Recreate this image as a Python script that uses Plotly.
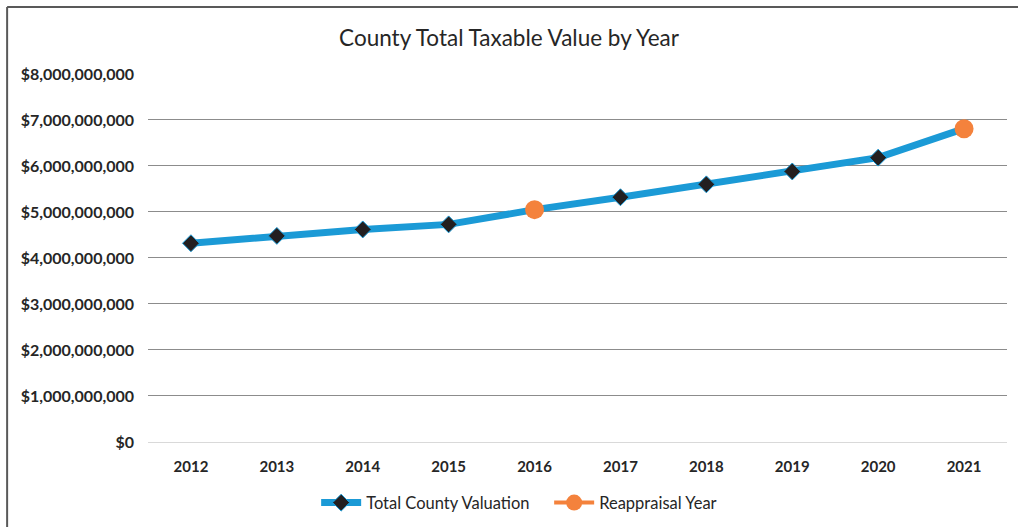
import plotly.graph_objects as go

years = ["2012", "2013", "2014", "2015", "2016", "2017", "2018", "2019", "2020", "2021"]
total_valuation = [4.32e9, 4.48e9, 4.62e9, 4.73e9, 5.05e9, 5.32e9, 5.60e9, 5.88e9, 6.18e9, 6.81e9]
reappraisal = [None, None, None, None, 5.05e9, None, None, None, None, 6.81e9]
y_ticks = [0, 1e9, 2e9, 3e9, 4e9, 5e9, 6e9, 7e9, 8e9]

FONT = "Lato, 'Open Sans', sans-serif"

fig = go.Figure()

fig.add_trace(go.Scatter(
    x=years, y=total_valuation,
    mode="lines+markers",
    name="Total County Valuation",
    line=dict(color="#1B9AD6", width=7),
    marker=dict(symbol="diamond", size=13, color="#231F20",
                line=dict(color="#1B9AD6", width=1)),
))

fig.add_trace(go.Scatter(
    x=years, y=reappraisal,
    mode="lines+markers",
    name="Reappraisal Year",
    connectgaps=False,
    line=dict(color="#F4823C", width=4),
    marker=dict(symbol="circle", size=19, color="#F4823C"),
))

# outer chart border (top and left edges visible in the frame)
fig.add_shape(type="line", xref="paper", yref="paper",
              x0=-0.164, x1=1.05, y0=1.179, y1=1.179,
              line=dict(color="#595959", width=2))
fig.add_shape(type="line", xref="paper", yref="paper",
              x0=-0.164, x1=-0.164, y0=-0.3, y1=1.179,
              line=dict(color="#595959", width=2))

fig.update_layout(
    width=1018, height=527,
    paper_bgcolor="white", plot_bgcolor="white",
    margin=dict(l=148, r=11, t=73, b=85, autoexpand=False),
    font=dict(family=FONT, color="#262626"),
    title=dict(text="County Total Taxable Value by Year",
               font=dict(size=22.5, color="#262626", family=FONT),
               x=0.5, xanchor="center", y=0.928, yanchor="middle"),
    xaxis=dict(
        type="category",
        range=[-0.5, 9.5],
        automargin=False,
        showgrid=False, zeroline=False, showline=False,
        tickfont=dict(size=15, color="#262626", family=FONT, weight="bold"),
        ticklabelstandoff=14,
        ticks="",
    ),
    yaxis=dict(
        range=[0, 8.02e9],
        tickvals=y_ticks,
        tickformat="$,.0f",
        automargin=False,
        showgrid=True, gridcolor="#8C8C8C", gridwidth=1.3,
        zeroline=True, zerolinecolor="#D9D9D9", zerolinewidth=1.3,
        showline=False,
        tickfont=dict(size=16, color="#262626", family=FONT, weight="bold"),
        ticklabelstandoff=13,
        ticks="",
    ),
    showlegend=True,
    legend=dict(
        orientation="h",
        x=0.467, xanchor="center",
        y=-0.165, yanchor="middle",
        font=dict(size=16.5, color="#262626", family=FONT),
        itemwidth=40,
        entrywidth=178,
        bgcolor="rgba(0,0,0,0)",
    ),
)

fig.write_html("out.html", config={"displayModeBar": False},
               post_script="document.body.style.margin='0';")
